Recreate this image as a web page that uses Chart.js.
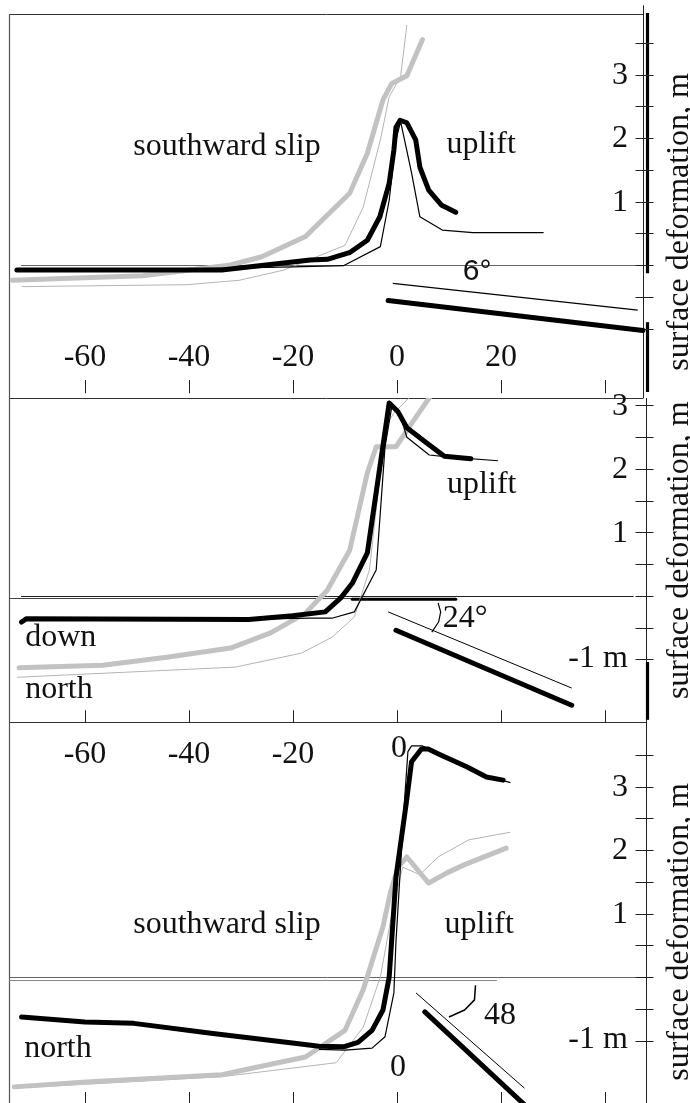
<!DOCTYPE html>
<html>
<head>
<meta charset="utf-8">
<script src="https://cdn.jsdelivr.net/npm/chart.js@4.4.1/dist/chart.umd.min.js"></script>
<style>
  html, body { margin: 0; padding: 0; background: #fff; }
  #wrap { position: relative; width: 690px; height: 1103px; }
  #wrap canvas { position: absolute; left: 0; top: 0; }
</style>
</head>
<body>
<div id="wrap">
  <canvas id="p1" width="690" height="1103"></canvas>
  <canvas id="p2" width="690" height="1103"></canvas>
  <canvas id="p3" width="690" height="1103"></canvas>
</div>
<script>
// distance along profile (km) and surface deformation (m)
const xTicks = [-60, -40, -20, 0, 20, 40];
const xTickLabels = ['-60', '-40', '-20', '0', '20'];
const yTicks = [-1, -0.5, 0, 0.5, 1, 1.5, 2, 2.5, 3, 3.5];
const yTickLabels = ['1', '2', '3'];
const axisTitle = 'surface deformation, m';

// panel 1 (6° fault)
const p1ThickBlack = [[-73.1,-0.08],[-33.7,-0.08],[-16.7,0.08],[-13.4,0.09],[-9.0,0.2],[-5.7,0.39],[-3.3,0.76],[-1.5,1.29],[-0.6,1.81],[-0.2,2.17],[0.6,2.28],[1.9,2.24],[3.6,1.97],[4.4,1.54],[6.1,1.18],[8.6,0.94],[11.3,0.83]];
const p1ThinBlack = [[-73,-0.06],[-40,-0.06],[-20,-0.03],[-10.3,-0.01],[-3.2,0.29],[-1.5,1.02],[-0.2,1.97],[0.7,2.26],[2.8,1.45],[4.4,0.76],[8.7,0.55],[14.6,0.51],[28.2,0.51]];
const p1ThickGray = [[-74,-0.24],[-48.9,-0.17],[-32,0.0],[-26,0.13],[-17.6,0.45],[-9.1,1.13],[-5.7,1.76],[-2.7,2.6],[-1.0,2.86],[1.9,2.98],[4.9,3.55]];
const p1ThinGray = [[-72.2,-0.34],[-40.4,-0.31],[-30.3,-0.24],[-21.8,-0.08],[-10,0.31],[-6.5,0.91],[-3.2,1.97],[-1.5,2.65],[0.7,2.97],[1.9,3.78]];
const p1FaultThin = [[-0.8,-0.29],[46.3,-0.71]];
const p1FaultThick = [[-1.7,-0.56],[47.3,-1.03]];

// panel 2 (24° fault)
const p2ThickBlack = [[-72.2,-0.41],[-71.3,-0.36],[-28.5,-0.37],[-20.1,-0.31],[-13.8,-0.25],[-10.8,-0.03],[-8.6,0.2],[-5.7,0.68],[-1.5,3.04],[0.2,2.9],[1.9,2.65],[5.4,2.43],[9.1,2.2],[14.2,2.16]];
const p2ThinBlack = [[-72,-0.37],[-30,-0.37],[-16.7,-0.35],[-12.5,-0.35],[-8.2,-0.25],[-4.0,0.41],[-2.3,2.35],[-1.0,2.98],[0.7,2.82],[1.9,2.5],[6.2,2.22],[9.6,2.19],[19.4,2.13]];
const p2ThickGray = [[-72.7,-1.13],[-56.6,-1.09],[-43.9,-0.96],[-32,-0.82],[-24.3,-0.58],[-17.6,-0.27],[-13.4,0.09],[-9.1,0.72],[-5.7,1.94],[-4.0,2.35],[-0.2,2.35],[1.9,2.61],[6.2,3.12],[8.0,3.4]];
const p2ThinGray = [[-73.1,-1.28],[-31.1,-1.12],[-18.4,-0.9],[-12.5,-0.65],[-8.2,-0.33],[-5.3,0.41],[-3.6,1.67],[-2.3,2.66],[-0.6,2.88],[2.3,3.12],[4,3.5]];
const p2Trace = [[-8.6,-0.05],[11.3,-0.05]];
const p2FaultThin = [[-1.7,-0.25],[33.6,-1.45]];
const p2FaultThick = [[-0.2,-0.54],[33.6,-1.72]];
const p2Arc = [[7.9,-0.11],[8.4,-0.25],[8.0,-0.41],[6.7,-0.57]];

// panel 3 (48° fault)
const p3ThickBlack = [[-72.2,-0.63],[-60,-0.71],[-50.6,-0.73],[-35.4,-0.89],[-20.1,-1.04],[-15,-1.09],[-10.3,-1.1],[-7.5,-1.03],[-4.8,-0.84],[-2.7,-0.52],[-1.5,0.0],[-0.2,1.57],[1.8,2.75],[2.8,3.39],[4.7,3.59],[6.0,3.59],[8.3,3.5],[13.4,3.31],[17.2,3.15],[20.4,3.1]];
const p3ThinBlack = [[-15,-1.14],[-10,-1.15],[-4.8,-1.12],[-2.3,-0.94],[-0.6,-0.25],[-0.2,0.55],[1.3,2.6],[2.1,3.55],[2.8,3.64],[4.8,3.64],[6.5,3.58],[13.4,3.33],[17.2,3.17],[21.8,3.06]];
const p3ThickGray = [[-73.6,-1.73],[-59,-1.65],[-33.7,-1.54],[-25.2,-1.39],[-17.6,-1.26],[-10,-0.84],[-6.5,-0.2],[-2.7,0.79],[-1.3,1.32],[0.2,1.73],[1.9,1.89],[6.1,1.48],[9.6,1.64],[13.0,1.77],[21.0,2.03]];
const p3ThinGray = [[-73.6,-1.75],[-33.7,-1.57],[-11.7,-1.35],[-6.5,-0.79],[-3.2,0.0],[-0.6,1.17],[1.1,1.73],[4.4,1.61],[7.9,1.89],[13.8,2.16],[21.8,2.28]];
const p3FaultThin = [[3.65,-0.25],[24.5,-1.75]];
const p3FaultThick = [[5.35,-0.55],[26.6,-2.17]];
const p3Arc = [[15.1,-0.13],[14.9,-0.36],[13.0,-0.52],[10.0,-0.63]];

const X_MIN = -74.615, X_MAX = 47.885;
const SERIF = '32px "Liberation Serif", "Times New Roman", serif';
const SANS = '30px "Liberation Sans", Arial, sans-serif';

function line(pairs, color, width) {
  return {
    data: pairs.map(p => ({ x: p[0], y: p[1] })),
    borderColor: color, borderWidth: width,
    pointRadius: 0, tension: 0, fill: false,
    borderJoinStyle: 'round', borderCapStyle: width > 2 ? 'round' : 'butt'
  };
}

// frame, axis, ticks and texts of each panel
const figurePlugin = {
  id: 'figure',
  beforeDatasetsDraw(chart, args, o) {
    const { ctx, chartArea: a, scales: { x, y } } = chart;
    const seg = (x0, y0, x1, y1, w, c) => {
      ctx.beginPath(); ctx.lineWidth = w; ctx.strokeStyle = c;
      ctx.moveTo(x0, y0); ctx.lineTo(x1, y1); ctx.stroke();
    };
    ctx.save();
    const L = a.left + 0.5, R = a.right + 0.5;
    if (o.frameTop) seg(L, a.top + 0.5, R - 3, a.top + 0.5, 1, '#333');
    if (o.frameBottom) seg(L, a.bottom - 0.5, R, a.bottom - 0.5, 1, '#333');
    seg(L, a.top, L, a.bottom, 1.2, '#555');
    (o.zeroLines || []).forEach(z => {
      const py = Math.round(y.getPixelForValue(z.v)) + 0.5;
      seg(x.getPixelForValue(z.from), py, x.getPixelForValue(z.to), py, 1, z.color);
    });
    // right-hand deformation axis
    const ax = R + (o.axisShift || 0);
    seg(ax, y.getPixelForValue(o.axisSpan[0]), ax, y.getPixelForValue(o.axisSpan[1]), 1, '#222');
    (o.axisThick || []).forEach(s => {
      seg(R + 1, y.getPixelForValue(s[0]), R + 1, y.getPixelForValue(s[1]), 3.2, '#000');
    });
    o.yTicks.forEach(v => {
      const py = Math.round(y.getPixelForValue(v)) + 0.5;
      seg(R - 11, py, R + 7, py, 1, '#222');
    });
    // x ticks
    xTicks.forEach(v => {
      const px = Math.round(x.getPixelForValue(v)) + 0.5;
      seg(px, y.getPixelForValue(o.xTickSpan[0]), px, y.getPixelForValue(o.xTickSpan[1]), 1, '#222');
    });
    ctx.restore();
  },
  afterDatasetsDraw(chart, args, o) {
    const { ctx, chartArea: a, scales: { x, y } } = chart;
    ctx.save();
    ctx.fillStyle = '#111';
    ctx.textBaseline = 'middle';
    const put = (t, px, py, align, font) => {
      ctx.font = font || SERIF; ctx.textAlign = align || 'center';
      ctx.fillText(t, px, py);
    };
    if (o.xLabelsAt !== undefined) {
      xTickLabels.forEach((t, i) => {
        if (o.skipX && o.skipX.includes(t)) return;
        put(t, x.getPixelForValue(xTicks[i]), y.getPixelForValue(o.xLabelsAt));
      });
    }
    yTickLabels.forEach(t => {
      put(t, a.right - 18, y.getPixelForValue(parseFloat(t)) + 1, 'right');
    });
    (o.notes || []).forEach(n => {
      put(n.t, x.getPixelForValue(n.x), y.getPixelForValue(n.y), n.align, n.font);
    });
    // rotated axis title
    ctx.translate(a.right + 42, y.getPixelForValue(o.titleAt));
    ctx.rotate(-Math.PI / 2);
    ctx.font = SERIF; ctx.textAlign = 'center'; ctx.textBaseline = 'alphabetic';
    ctx.fillText(axisTitle, 0, 0);
    ctx.restore();
  }
};

function makeChart(id, datasets, yMin, yMax, top, bottom, fig) {
  return new Chart(document.getElementById(id), {
    type: 'line',
    data: { datasets },
    options: {
      responsive: false,
      animation: false,
      devicePixelRatio: 1,
      events: [],
      layout: { padding: { left: 9, right: 44, top: top, bottom: bottom } },
      plugins: { legend: { display: false }, tooltip: { enabled: false }, figure: fig },
      scales: {
        x: { type: 'linear', display: false, min: X_MIN, max: X_MAX },
        y: { type: 'linear', display: false, min: yMin, max: yMax }
      }
    },
    plugins: [figurePlugin]
  });
}

const BLACK = '#000', GRAY = '#c2c2c2', LIGHT = '#b4b4b4';

makeChart('p1', [
  line(p1ThickBlack, BLACK, 5),
  line(p1ThinBlack, BLACK, 1.2),
  line(p1ThickGray, GRAY, 5),
  line(p1ThinGray, LIGHT, 1),
  line(p1FaultThick, BLACK, 5),
  line(p1FaultThin, BLACK, 1.2)
], -2.094, 3.953, 14, 705, {
  frameTop: true,
  zeroLines: [{ v: 0, from: -72.3, to: 47.8, color: '#666' }],
  axisShift: -3,
  axisSpan: [4.09, -2.094],
  axisThick: [[3.97, -0.13], [-0.9, -2.0]],
  yTicks: yTicks,
  xTickSpan: [-1.81, -2.02],
  xLabelsAt: -1.45,
  titleAt: 0.68,
  notes: [
    { t: 'southward slip', x: -32.7, y: 1.86 },
    { t: 'uplift', x: 16.2, y: 1.89 },
    { t: '6°', x: 15.4, y: -0.11, font: SANS }
  ]
});

makeChart('p2', [
  line(p2ThickBlack, BLACK, 5),
  line(p2ThinBlack, BLACK, 1.2),
  line(p2ThickGray, GRAY, 5),
  line(p2ThinGray, LIGHT, 1),
  line(p2Trace, BLACK, 3),
  line(p2FaultThick, BLACK, 5),
  line(p2FaultThin, BLACK, 1),
  line(p2Arc, BLACK, 1.2)
], -2.0, 3.118, 398, 380, {
  frameTop: true,
  frameBottom: true,
  zeroLines: [{ v: 0, from: -72.3, to: 45.5, color: '#222' }, { v: -0.035, from: -74.6, to: -5, color: '#444' }],
  axisSpan: [3.118, -2.0],
  axisThick: [[-1.04, -1.95]],
  yTicks: yTicks.filter(v => v <= 3),
  xTickSpan: [-1.8, -2.0],
  titleAt: 0.72,
  notes: [
    { t: 'uplift', x: 16.3, y: 1.75 },
    { t: 'down', x: -71.5, y: -0.65, align: 'left' },
    { t: 'north', x: -71.5, y: -1.48, align: 'left' },
    { t: '24°', x: 13.1, y: -0.36 },
    { t: '-1 m', x: 44.4, y: -0.98, align: 'right' }
  ]
});

makeChart('p3', [
  line(p3ThickBlack, BLACK, 5),
  line(p3ThinBlack, BLACK, 1.2),
  line(p3ThickGray, GRAY, 5),
  line(p3ThinGray, LIGHT, 1),
  line(p3FaultThick, BLACK, 5),
  line(p3FaultThin, BLACK, 1),
  line(p3Arc, BLACK, 1.5)
], -1.984, 4.0, 723, 0, {
  zeroLines: [{ v: 0, from: -74.6, to: 47.9, color: '#666' }, { v: -0.04, from: -74.6, to: 19.2, color: '#888' }],
  axisSpan: [4.0, -1.984],
  yTicks: yTicks,
  xTickSpan: [-1.81, -1.984],
  xLabelsAt: 3.5,
  skipX: ['0', '20'],
  titleAt: 0.71,
  notes: [
    { t: '0', x: 0.4, y: 3.6 },
    { t: 'southward slip', x: -32.7, y: 0.82 },
    { t: 'uplift', x: 15.8, y: 0.82 },
    { t: 'north', x: -71.7, y: -1.12, align: 'left' },
    { t: '48', x: 19.8, y: -0.6 },
    { t: '0', x: 0.2, y: -1.42 },
    { t: '-1 m', x: 44.4, y: -0.98, align: 'right' }
  ]
});
</script>
</body>
</html>
